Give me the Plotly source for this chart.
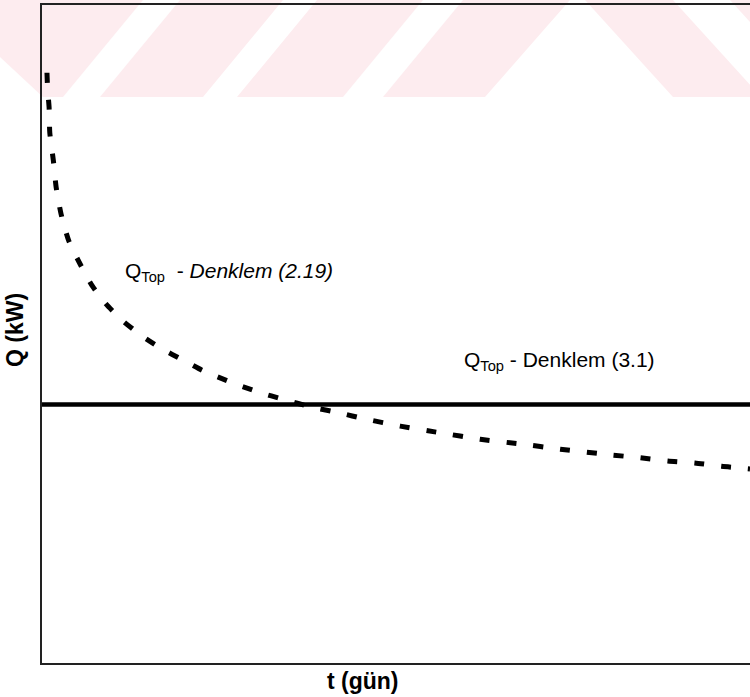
import plotly.graph_objects as go

# Q_Top from Denklem (2.19): total heat load versus time
t_days = [0.7, 0.8, 1.0, 1.1, 1.6, 2.0, 2.7, 3.8, 5.4, 7.1, 9.0, 11.3, 14.1, 17.0,
          19.8, 22.6, 26.6, 30.5, 34.3, 38.1, 42.0, 45.6, 50.6, 56.2, 61.9, 67.5,
          73.2, 80.6, 84.5, 88.4, 92.2, 96.0, 100.0]
q_kw = [89.7, 87.1, 84.5, 80.6, 76.4, 72.3, 68.2, 64.1, 60.6, 57.3, 54.6, 52.1,
        49.7, 47.7, 46.1, 44.5, 42.7, 41.2, 40.0, 38.9, 38.0, 37.1, 36.0, 35.0,
        34.0, 33.3, 32.5, 31.6, 31.2, 30.7, 30.4, 29.9, 29.5]

# Q_Top from Denklem (3.1): constant load
t_const = [0.0, 100.0]
q_const = [39.3, 39.3]

label_219 = "Q<sub>Top</sub>  - <i>Denklem (2.19)</i>"
label_31 = "Q<sub>Top</sub> - Denklem (3.1)"
label_pos_219 = (11.4, 59.4)
label_pos_31 = (59.3, 45.9)

W, H = 750, 697
L, R, T, B = 42, 0, 5, 34
PW, PH = W - L - R, H - T - B


def to_paper(px, py):
    return (px - L) / PW, (H - B - py) / PH


def poly_path(pts):
    coords = [to_paper(x, y) for x, y in pts]
    d = "M " + " L ".join(f"{x:.5f},{y:.5f}" for x, y in coords) + " Z"
    return d


PINK = "#fdecef"
band = [(0, 0), (750, 0), (750, 97), (0, 97)]
gaps = [
    [(0, 57), (0, 97), (43, 97)],
    [(143, 0), (180, 0), (100, 97), (63, 97)],
    [(283, 0), (317, 0), (237, 97), (203, 97)],
    [(423, 0), (463, 0), (383, 97), (343, 97)],
    [(570, 0), (585, 0), (673, 97), (485, 97)],
    [(673, 0), (730, 0), (818, 97), (761, 97)],
]

shapes = [dict(type="path", xref="paper", yref="paper", path=poly_path(band),
               fillcolor=PINK, line=dict(width=0), layer="below")]
for g in gaps:
    shapes.append(dict(type="path", xref="paper", yref="paper", path=poly_path(g),
                       fillcolor="white", line=dict(width=0), layer="below"))

fig = go.Figure()
fig.add_trace(go.Scatter(x=t_const, y=q_const, mode="lines",
                         line=dict(color="black", width=4.5),
                         hoverinfo="skip", showlegend=False))
fig.add_trace(go.Scatter(x=t_days, y=q_kw, mode="lines",
                         line=dict(color="black", width=5, dash="10px,17px",
                                   shape="spline", smoothing=0.6),
                         hoverinfo="skip", showlegend=False))

FONT = "Liberation Sans, Arial, sans-serif"
ann = [
    dict(x=label_pos_219[0], y=label_pos_219[1], xref="x", yref="y", text=label_219,
         showarrow=False, xanchor="left", yanchor="middle",
         font=dict(family=FONT, size=21, color="black")),
    dict(x=label_pos_31[0], y=label_pos_31[1], xref="x", yref="y", text=label_31,
         showarrow=False, xanchor="left", yanchor="middle",
         font=dict(family=FONT, size=21, color="black")),
]
tx, ty = to_paper(363, 681)
ann.append(dict(x=tx, y=ty, xref="paper", yref="paper", text="<b>t (gün)</b>",
                showarrow=False, xanchor="center", yanchor="middle",
                font=dict(family=FONT, size=23, color="black")))
qx, qy = to_paper(15, 330)
ann.append(dict(x=qx, y=qy, xref="paper", yref="paper", text="<b>Q (kW)</b>",
                showarrow=False, xanchor="center", yanchor="middle", textangle=-90,
                font=dict(family=FONT, size=23, color="black")))

axis_common = dict(showgrid=False, zeroline=False, showticklabels=False, ticks="",
                   showline=True, linecolor="#222", linewidth=1.5, fixedrange=True)
fig.update_layout(
    width=W, height=H,
    margin=dict(l=L, r=R, t=T, b=B, pad=0),
    paper_bgcolor="white", plot_bgcolor="rgba(0,0,0,0)",
    xaxis=dict(range=[0, 100], mirror=True, **axis_common),
    yaxis=dict(range=[0, 100], mirror=False, **axis_common),
    shapes=shapes, annotations=ann, showlegend=False,
)

fig.write_html("out.html")
